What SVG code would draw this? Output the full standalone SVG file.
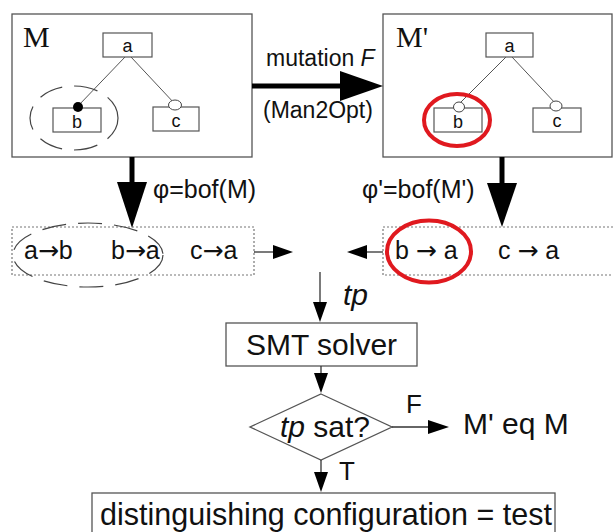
<svg xmlns="http://www.w3.org/2000/svg" width="613" height="532" viewBox="0 0 613 532">
<style>
.box{fill:#fff;stroke:#555;stroke-width:1.3}
.nd{fill:#fff;stroke:#555;stroke-width:1.2}
.dot{fill:none;stroke:#777;stroke-width:1.2;stroke-dasharray:2 2}
.thin{fill:none;stroke:#555;stroke-width:1}
.ln{fill:none;stroke:#333;stroke-width:1.3}
.thick{fill:none;stroke:#000;stroke-width:5}
.red{fill:none;stroke:#e0191f;stroke-width:4}
.dash{fill:none;stroke:#444;stroke-width:1.2;stroke-dasharray:24 12}
text{font-family:"Liberation Sans",Arial,sans-serif;fill:#111}
.serif{font-family:"Liberation Serif","Times New Roman",serif}
.ar{font-family:"DejaVu Sans",sans-serif}
.sm{font-size:18px}
.md{font-size:23px}
.lb{font-size:25px}
.lg{font-size:30px}
</style>
<rect width="613" height="532" fill="#fff"/>
<g id="M">
<rect class="box" x="12" y="14" width="240" height="143"/>
<text class="serif" x="23" y="47" font-size="30">M</text>
<line class="thin" x1="125" y1="57" x2="78" y2="106"/>
<line class="thin" x1="131" y1="57" x2="175" y2="104"/>
<rect class="nd" x="103" y="33" width="49" height="24"/>
<text class="sm" x="127.5" y="51.5" text-anchor="middle">a</text>
<rect class="nd" x="53" y="108" width="48" height="24"/>
<text class="sm" x="77" y="127.5" text-anchor="middle">b</text>
<rect class="nd" x="153" y="107" width="46" height="24"/>
<text class="sm" x="176" y="126.5" text-anchor="middle">c</text>
<circle cx="78" cy="107" r="5" fill="#000"/>
<ellipse cx="175" cy="105" rx="6.5" ry="5" fill="#fff" stroke="#444" stroke-width="1"/>
<ellipse class="dash" cx="74" cy="118" rx="44" ry="32"/>
</g>
<g id="M2">
<rect class="box" x="383" y="14" width="229" height="143"/>
<text class="serif" x="396" y="47" font-size="30">M'</text>
<line class="thin" x1="506" y1="57" x2="459" y2="104"/>
<line class="thin" x1="512" y1="57" x2="556" y2="104"/>
<rect class="nd" x="486" y="33" width="47" height="24"/>
<text class="sm" x="509.5" y="51.5" text-anchor="middle">a</text>
<rect class="nd" x="434" y="108" width="48" height="24"/>
<text class="sm" x="458" y="127.5" text-anchor="middle">b</text>
<rect class="nd" x="533" y="108" width="48" height="24"/>
<text class="sm" x="557" y="126.5" text-anchor="middle">c</text>
<ellipse cx="459" cy="107" rx="5.5" ry="5" fill="#fff" stroke="#444" stroke-width="1"/>
<ellipse cx="556" cy="106" rx="6" ry="5" fill="#fff" stroke="#444" stroke-width="1"/>
<ellipse class="red" cx="457" cy="120" rx="33" ry="26"/>
</g>
<g id="phi">
<rect class="dot" x="12" y="227" width="242" height="48"/>
<text class="lb" x="24" y="259">a<tspan class="ar">→</tspan>b</text>
<text class="lb" x="111" y="259">b<tspan class="ar">→</tspan>a</text>
<text class="lb" x="190" y="259">c<tspan class="ar">→</tspan>a</text>
<ellipse class="dash" cx="88" cy="255" rx="75" ry="32"/>
</g>
<g id="phi2">
<rect class="dot" x="383" y="227" width="240" height="48"/>
<text class="lb" x="395" y="259">b <tspan class="ar">→</tspan> a</text>
<text class="lb" x="498" y="259">c <tspan class="ar">→</tspan> a</text>
<ellipse class="red" cx="429" cy="251.5" rx="42" ry="31"/>
</g>
<g id="smt">
<rect class="box" x="226" y="323" width="191" height="43"/>
<text class="lg" x="321.5" y="355" text-anchor="middle">SMT solver</text>
</g>
<g id="sat">
<polygon class="box" points="321,394 392,427 321,460 250,427"/>
<text class="lg" x="325" y="437" text-anchor="middle"><tspan font-style="italic">tp</tspan> sat?</text>
</g>
<g id="eq">
<text class="lg" x="463" y="434">M' eq M</text>
</g>
<g id="test">
<rect class="box" x="92" y="493" width="463" height="50"/>
<text x="100" y="525" font-size="30.5">distinguishing configuration = test</text>
</g>
<g id="connectors">
<line class="thick" x1="252" y1="86" x2="342" y2="86"/>
<polygon points="340,71 383,86 340,101" fill="#000"/>
<text class="md" x="266" y="66">mutation <tspan font-style="italic">F</tspan></text>
<text class="md" x="263" y="118">(Man2Opt)</text>
<line class="thick" x1="132" y1="157" x2="132" y2="184"/>
<polygon points="117,182 147,182 132,228" fill="#000"/>
<text class="lb" x="153" y="198">φ=bof(M)</text>
<line class="thick" x1="502" y1="157" x2="502" y2="185"/>
<polygon points="487,183 517,183 502,227" fill="#000"/>
<text class="lb" x="362" y="198">φ'=bof(M')</text>
<line class="ln" x1="254" y1="252" x2="275" y2="252"/>
<polygon points="273,245 293,252 273,259" fill="#000"/>
<line class="ln" x1="383" y1="252" x2="365" y2="252"/>
<polygon points="367,245 347,252 367,259" fill="#000"/>
<line class="ln" x1="320" y1="272" x2="320" y2="304"/>
<polygon points="313,302 327,302 320,322" fill="#000"/>
<text class="lg" x="343" y="305" font-style="italic">tp</text>
<line class="ln" x1="321" y1="366" x2="321" y2="375"/>
<polygon points="314,373 328,373 321,393" fill="#000"/>
<line class="ln" x1="392" y1="427" x2="430" y2="427"/>
<polygon points="428,420 449,427 428,434" fill="#000"/>
<text x="406" y="413" font-size="26">F</text>
<line class="ln" x1="321" y1="460" x2="321" y2="474"/>
<polygon points="314,472 328,472 321,492" fill="#000"/>
<text x="339" y="480" font-size="26">T</text>
</g>
</svg>
